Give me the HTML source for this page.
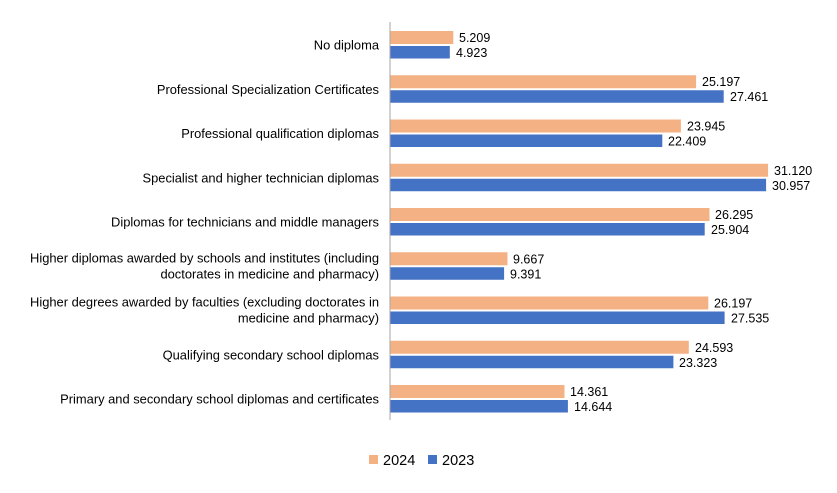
<!DOCTYPE html><html><head><style>body{margin:0;background:#fff}</style></head><body>
<svg width="837" height="488" xmlns="http://www.w3.org/2000/svg" font-family="Liberation Sans, sans-serif" font-size="12.5" fill="#000">
<g fill="#F4B183">
<rect x="390" y="31" width="63.3" height="13"/>
<rect x="390" y="75.25" width="306.1" height="13"/>
<rect x="390" y="119.5" width="290.9" height="13"/>
<rect x="390" y="163.75" width="378.1" height="13"/>
<rect x="390" y="208" width="319.5" height="13"/>
<rect x="390" y="252.25" width="117.5" height="13"/>
<rect x="390" y="296.5" width="318.3" height="13"/>
<rect x="390" y="340.75" width="298.8" height="13"/>
<rect x="390" y="385" width="174.5" height="13"/>
<rect x="369" y="455" width="9" height="9"/>
</g>
<g fill="#4472C4">
<rect x="390" y="46" width="59.8" height="12.5"/>
<rect x="390" y="90.25" width="333.7" height="12.5"/>
<rect x="390" y="134.5" width="272.3" height="12.5"/>
<rect x="390" y="178.75" width="376.1" height="12.5"/>
<rect x="390" y="223" width="314.7" height="12.5"/>
<rect x="390" y="267.25" width="114.1" height="12.5"/>
<rect x="390" y="311.5" width="334.6" height="12.5"/>
<rect x="390" y="355.75" width="283.4" height="12.5"/>
<rect x="390" y="400" width="177.9" height="12.5"/>
<rect x="428" y="455" width="9" height="9"/>
</g>
<g>
<text x="459" y="42">5.209</text><text x="456" y="57">4.923</text>
<text x="702" y="86">25.197</text><text x="730" y="101">27.461</text>
<text x="687" y="130.5">23.945</text><text x="668" y="145.5">22.409</text>
<text x="774" y="174.75">31.120</text><text x="772" y="189.75">30.957</text>
<text x="715" y="219">26.295</text><text x="711" y="234">25.904</text>
<text x="513" y="263.25">9.667</text><text x="510" y="278.25">9.391</text>
<text x="714" y="307.5">26.197</text><text x="731" y="322.5">27.535</text>
<text x="695" y="351.75">24.593</text><text x="679" y="366.75">23.323</text>
<text x="570" y="396">14.361</text><text x="574" y="411">14.644</text>
</g>
<g text-anchor="end" font-size="12.9">
<text x="379" y="49.5">No diploma</text>
<text x="379" y="93.75">Professional Specialization Certificates</text>
<text x="379" y="138">Professional qualification diplomas</text>
<text x="379" y="182.25">Specialist and higher technician diplomas</text>
<text x="379" y="226.5">Diplomas for technicians and middle managers</text>
<text x="379" y="262.25">Higher diplomas awarded by schools and institutes (including</text>
<text x="379" y="278.25">doctorates in medicine and pharmacy)</text>
<text x="379" y="306.5">Higher degrees awarded by faculties (excluding doctorates in</text>
<text x="379" y="322.5">medicine and pharmacy)</text>
<text x="379" y="359.25">Qualifying secondary school diplomas</text>
<text x="379" y="403.5">Primary and secondary school diplomas and certificates</text>
</g>
<line x1="390" y1="22" x2="390" y2="420" stroke="#A6A6A6"/>
<text x="383" y="465" font-size="14.5">2024</text>
<text x="442" y="465" font-size="14.5">2023</text>
</svg></body></html>
